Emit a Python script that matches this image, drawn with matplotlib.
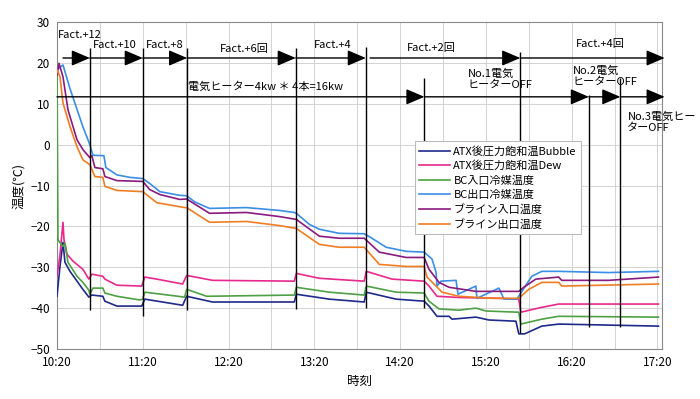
import matplotlib
matplotlib.use("Agg")
import matplotlib.pyplot as plt

plt.rcParams['font.family'] = ['Noto Sans CJK JP', 'DejaVu Sans']

# ── data: minutes after 10:20, temperature [℃] ─────────────────────────────
t_bubble = [0, 2.1, 4.2, 5.6, 9.1, 18.1, 22.3, 24.4, 32.1, 33.5, 41.9, 59.3, 61.4,
            87.9, 90.7, 108.8, 166, 167.4, 190.5, 214.9, 216.3, 237.2, 256.8, 260.2,
            265.8, 274.2, 276.3, 293, 302.1, 321, 323, 327, 339.1, 350.9, 420.7]
v_bubble = [-37.1, -29.8, -23.9, -28.8, -31.0, -35.4, -37.3, -36.8, -37.1, -38.3, -39.5,
            -39.5, -37.8, -39.3, -37.1, -38.5, -38.5, -36.6, -37.8, -38.5, -36.1, -37.8,
            -38.3, -39.5, -42.0, -42.0, -42.7, -42.2, -42.9, -43.2, -46.3, -46.3, -44.4,
            -43.9, -44.4]

t_dew = [0, 2.1, 4.2, 4.9, 7, 11.2, 18.1, 22.3, 24.4, 32.1, 33.5, 41.9, 59.3, 61.4,
         69.8, 87.9, 90.7, 108.8, 166, 167.4, 183.5, 214.9, 216.3, 234.4, 256.8, 260.2,
         265.8, 281.2, 310, 323, 324.4, 339.1, 350.9, 420.7]
v_dew = [-32.2, -27.0, -19.0, -23.2, -26.8, -28.5, -30.5, -32.9, -31.7, -32.2, -32.9,
         -34.4, -34.6, -32.4, -32.9, -34.1, -32.0, -33.2, -33.4, -31.5, -32.7, -33.4,
         -31.0, -32.9, -33.4, -34.6, -37.1, -37.4, -37.6, -37.8, -41.0, -39.8, -39.0, -39.0]

t_bc_in = [0, 0.7, 2.1, 4.2, 5.6, 7.7, 14, 18.1, 22.3, 23, 25.1, 32.1, 33.5, 41.9, 57.9,
           60, 61.4, 89.3, 90.7, 104.7, 166, 167.4, 190.5, 214.9, 216.3, 237.2, 256.8,
           260.2, 267.2, 281.2, 293, 300, 323, 324.4, 339.1, 350.9, 420.7]
v_bc_in = [18.0, -23.2, -24.0, -24.9, -24.2, -28.8, -32.2, -33.7, -35.6, -36.6, -35.1,
           -35.1, -36.3, -37.1, -38.0, -37.8, -36.1, -37.3, -35.4, -37.1, -36.8, -34.9,
           -36.1, -36.8, -34.6, -36.1, -36.3, -38.3, -40.2, -40.5, -40.0, -40.7, -41.0,
           -43.9, -42.7, -42.0, -42.2]

t_bc_out = [0.7, 4.2, 9.1, 18.1, 23, 25.1, 32.8, 34.2, 41.9, 50.9, 60, 64.9, 71.9, 85.8,
            90.7, 96.3, 106.7, 132.6, 155.6, 166, 167.4, 176.5, 183.5, 197.4, 214.9, 218.4,
            230.2, 244.2, 256.8, 262.3, 265.1, 265.8, 268.6, 279.1, 280.5, 293, 293.7,
            309.1, 312.6, 321.6, 324.4, 332.1, 339.1, 350.9, 385.8, 420.7]
v_bc_out = [18.5, 19.5, 13.7, 4.4, 0.0, -2.6, -2.7, -5.6, -7.4, -8.0, -8.3, -9.5, -11.5,
            -12.4, -12.5, -14.0, -15.6, -15.4, -16.1, -16.6, -16.8, -19.5, -20.7, -21.7,
            -21.8, -22.5, -25.1, -26.1, -26.3, -28.0, -31.2, -34.6, -33.4, -33.2, -36.6,
            -34.6, -37.6, -35.1, -37.8, -37.8, -36.3, -32.2, -31.0, -31.0, -31.3, -31.0]

t_brine_in = [0, 1.4, 4.2, 7.7, 14, 18.1, 23, 24.4, 26.5, 32.1, 33.5, 41.9, 60, 64.9,
              71.9, 85.8, 90.7, 106.7, 132.6, 155.6, 167.4, 183.5, 197.4, 214.9, 225.4,
              244.2, 256.8, 260.2, 267.2, 274.2, 293, 323, 326.5, 334.9, 350.9, 353,
              385.8, 420.7]
v_brine_in = [17.0, 19.9, 16.6, 8.5, 1.2, -1.2, -3.2, -2.7, -5.6, -5.9, -7.8, -8.8, -9.0,
              -11.0, -12.2, -13.4, -13.3, -16.8, -16.6, -17.6, -18.3, -22.4, -22.9, -22.9,
              -26.3, -27.6, -27.6, -30.5, -33.7, -34.9, -35.9, -35.9, -34.9, -32.9, -32.4,
              -33.2, -33.2, -32.4]

t_brine_out = [0, 2.1, 4.2, 9.1, 14, 18.1, 23, 26.5, 32.1, 33.5, 41.9, 60, 69.8, 89.3,
               90.7, 106.7, 132.6, 155.6, 167.4, 183.5, 197.4, 214.9, 225.4, 244.2, 256.8,
               258.8, 265.1, 269.3, 281.2, 304.2, 323, 330, 339.1, 350.9, 353, 420.7]
v_brine_out = [18.3, 16.6, 10.2, 4.4, -0.5, -3.7, -4.9, -7.8, -8.0, -10.2, -11.2, -11.5,
               -14.2, -15.4, -15.4, -19.0, -18.8, -19.8, -20.5, -24.4, -25.1, -25.1, -29.3,
               -29.8, -29.8, -32.4, -34.6, -36.1, -37.1, -37.6, -37.6, -35.4, -33.7, -33.7,
               -34.6, -34.1]

series_labels = ["ATX後圧力飽和温Bubble", "ATX後圧力飽和温Dew", "BC入口冷媒温度",
                 "BC出口冷媒温度", "ブライン入口温度", "ブライン出口温度"]
series_colors = ["#1f2a8a", "#e8288c", "#4ea044", "#3a8ee6", "#8a1a7e", "#f07d22"]

tick_minutes = [0, 60, 120, 180, 240, 300, 360, 420]
tick_labels = ["10:20", "11:20", "12:20", "13:20", "14:20", "15:20", "16:20", "17:20"]

# event markers: time, top, bottom
event_t = [23, 60, 91, 167, 216, 257, 324, 372, 394]
event_top = [23.7, 23.7, 23.7, 23.7, 24.0, 16.3, 22.7, 12.2, 16.3]
event_bot = [-40.5, -42.0, -40.5, -40.2, -40.0, -40.0, -46.0, -44.6, -44.6]

# arrows: start, end
fact_start = [4.2, 23, 60, 91, 167, 219, 324]
fact_end = [23, 60, 91, 167, 216, 324, 425]
fact_y = 21.2
heater_start = [0, 257, 372, 394]
heater_end = [257, 372, 394, 425]
heater_y = 11.7

fig = plt.figure(figsize=(7.0, 3.99), dpi=100)
ax = fig.add_axes([0.0814, 0.1253, 0.864, 0.8195])

series = [(t_bubble, v_bubble), (t_dew, v_dew), (t_bc_in, v_bc_in),
          (t_bc_out, v_bc_out), (t_brine_in, v_brine_in), (t_brine_out, v_brine_out)]
for (t, v), lab, col in zip(series, series_labels, series_colors):
    ax.plot(t, v, color=col, lw=1.2, label=lab, zorder=3)

ax.set_xlim(0, 423)
ax.set_ylim(-50, 30)
ax.set_xticks(tick_minutes)
ax.set_xticklabels(tick_labels)
ax.set_xticks(range(30, 423, 60), minor=True)
ax.set_yticks(range(-50, 31, 10))
ax.grid(True, which="both", color="#cccccc", lw=0.6, zorder=0)
ax.tick_params(which="both", length=0, labelsize=8.5, pad=5)
for s in ax.spines.values():
    s.set_color("#888888")

ax.set_xlabel("時刻", fontsize=9)
ax.set_ylabel("温度(℃)", fontsize=9, labelpad=4)

# event lines
ax.vlines(event_t, event_bot, event_top, color="black", lw=1.0, zorder=4)

arrow_kw = dict(arrowstyle="-|>,head_length=0.75,head_width=0.32", color="black",
                lw=1.0, shrinkA=0, shrinkB=0, mutation_scale=15)
for a, b in zip(fact_start, fact_end):
    ax.annotate("", xy=(b, fact_y), xytext=(a, fact_y), arrowprops=arrow_kw,
                annotation_clip=False, zorder=5)
for a, b in zip(heater_start, heater_end):
    ax.annotate("", xy=(b, heater_y), xytext=(a, heater_y), arrowprops=arrow_kw,
                annotation_clip=False, zorder=5)

fs = 8
ax.text(0.7, 26.8, "Fact.+12", fontsize=fs, ha="left", va="center")
ax.text(40.5, 24.4, "Fact.+10", fontsize=fs, ha="center", va="center")
ax.text(75.3, 24.4, "Fact.+8", fontsize=fs, ha="center", va="center")
ax.text(131, 23.4, "Fact.+6回", fontsize=fs, ha="center", va="center")
ax.text(192.6, 24.4, "Fact.+4", fontsize=fs, ha="center", va="center")
ax.text(261.6, 23.7, "Fact.+2回", fontsize=fs, ha="center", va="center")
ax.text(380, 24.6, "Fact.+4回", fontsize=fs, ha="center", va="center")
ax.text(145.5, 14.2, "電気ヒーター4kw ＊ 4本=16kw", fontsize=fs, ha="center", va="center")
ax.text(287.4, 16.0, "No.1電気\nヒーターOFF", fontsize=fs, ha="left", va="center",
        linespacing=1.1)
ax.text(360.7, 16.7, "No.2電気\nヒーターOFF", fontsize=fs, ha="left", va="center",
        linespacing=1.1)
ax.text(399, 5.4, "No.3電気ヒー\nターOFF", fontsize=fs, ha="left", va="center",
        linespacing=1.1, clip_on=False)

leg = ax.legend(loc="upper left", bbox_to_anchor=(0.582, 0.652), fontsize=8,
                frameon=True, fancybox=False, edgecolor="#bbbbbb", framealpha=1,
                handlelength=2.8, labelspacing=0.35, borderpad=0.4, handletextpad=0.3)
leg.get_frame().set_linewidth(0.8)

fig.savefig("out.png", dpi=100, facecolor="white")
